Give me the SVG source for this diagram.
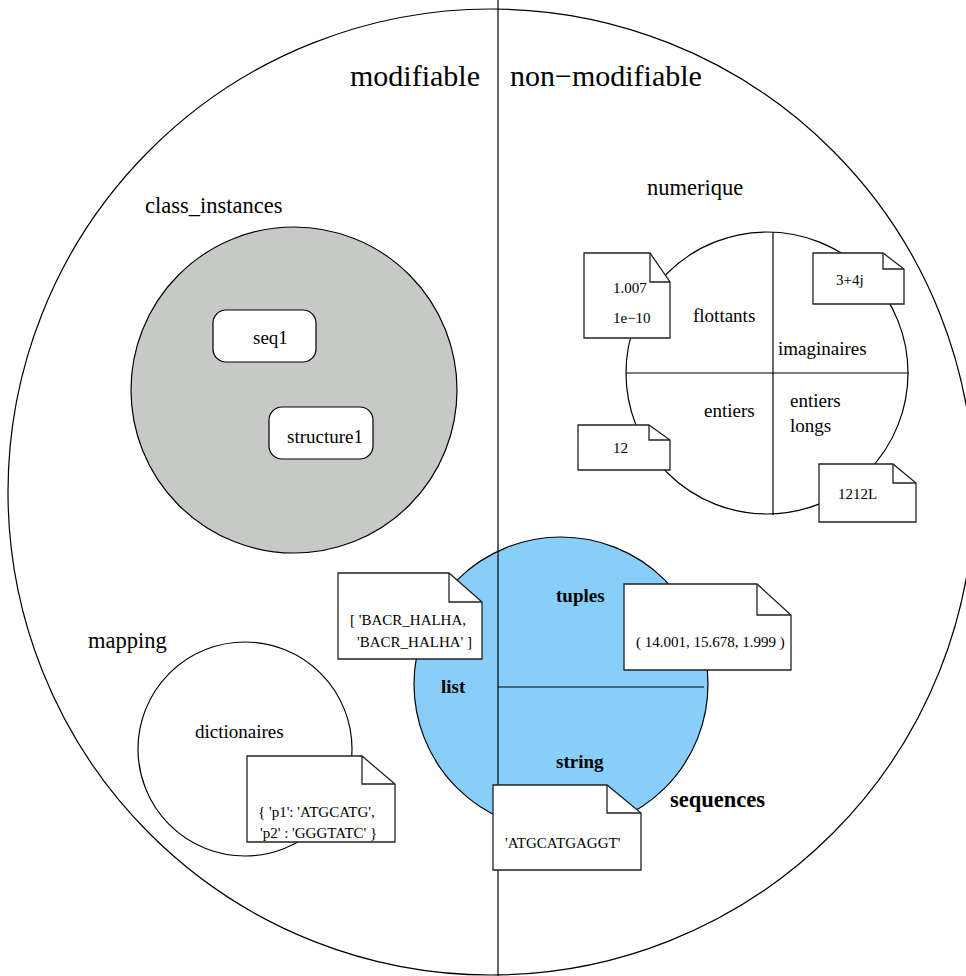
<svg xmlns="http://www.w3.org/2000/svg" width="966" height="976" viewBox="0 0 966 976">
<style>
text{font-family:"Liberation Serif","Times New Roman",serif;fill:#000}
.big{font-size:30px}
.lbl{font-size:22.5px}
.mid{font-size:19px}
.b{font-weight:bold}
.note{font-size:15px}
.ln{fill:none;stroke:#000;stroke-width:1.2}
.nb{fill:#fff;stroke:#222;stroke-width:1.3}
.fold{fill:none;stroke:#222;stroke-width:1.3}
</style>
<rect width="966" height="976" fill="#fff"/>
<g id="universe">
<circle cx="491" cy="492" r="483" fill="#fff" stroke="#000" stroke-width="1.2"/>
</g>
<g id="class_instances">
<circle cx="294" cy="390" r="163" fill="#c6c9c6" stroke="#000" stroke-width="1.2"/>
<text class="lbl" x="145" y="213">class_instances</text>
</g>
<g id="seq1">
<rect x="213" y="310" width="103" height="52" rx="13" fill="#fff" stroke="#000" stroke-width="1.2"/>
<text class="mid" x="253" y="344">seq1</text>
</g>
<g id="structure1">
<rect x="269" y="407" width="104" height="52" rx="13" fill="#fff" stroke="#000" stroke-width="1.2"/>
<text class="mid" x="287" y="443">structure1</text>
</g>
<g id="numerique">
<circle cx="767" cy="373" r="141" fill="#fff" stroke="#000" stroke-width="1.2"/>
<text class="lbl" x="647" y="195">numerique</text>
<text class="mid" x="693" y="322">flottants</text>
<text class="mid" x="778" y="355">imaginaires</text>
<text class="mid" x="704" y="417">entiers</text>
<text class="mid" x="790" y="407">entiers</text>
<text class="mid" x="790" y="432">longs</text>
</g>
<g id="mapping">
<circle cx="245" cy="749" r="107" fill="#fff" stroke="#000" stroke-width="1.2"/>
<text class="lbl" x="88" y="648">mapping</text>
<text class="mid" x="195" y="738">dictionaires</text>
</g>
<g id="sequences">
<circle cx="561" cy="684" r="147" fill="#87cefa" stroke="#000" stroke-width="1.2"/>
<text class="mid b" x="556" y="602">tuples</text>
<text class="mid b" x="441" y="693">list</text>
<text class="mid b" x="556" y="768">string</text>
<text class="lbl b" x="670" y="807">sequences</text>
</g>
<g id="connectors">
<line class="ln" x1="498" y1="0" x2="498" y2="976"/>
<line class="ln" x1="773" y1="232" x2="773" y2="515"/>
<line class="ln" x1="626" y1="373" x2="909" y2="373"/>
<line class="ln" x1="498" y1="687" x2="704" y2="687"/>
</g>
<g id="titles">
<text class="big" x="350" y="86">modifiable</text>
<text class="big" x="510" y="86">non−modifiable</text>
</g>
<g id="note_float">
<path class="nb" d="M584 253H650L670 282V338H584Z"/>
<path class="fold" d="M650 253V282H670"/>
<text class="note" x="613" y="293">1.007</text>
<text class="note" x="613" y="323">1e−10</text>
</g>
<g id="note_imag">
<path class="nb" d="M813 253H883L904 269V304H813Z"/>
<path class="fold" d="M883 253V269H904"/>
<text class="note" x="836" y="285">3+4j</text>
</g>
<g id="note_int">
<path class="nb" d="M578 425H649L670 440V470H578Z"/>
<path class="fold" d="M649 425V440H670"/>
<text class="note" x="613" y="453">12</text>
</g>
<g id="note_long">
<path class="nb" d="M819 464H893L916 483V522H819Z"/>
<path class="fold" d="M893 464V483H916"/>
<text class="note" x="838" y="499">1212L</text>
</g>
<g id="note_list">
<path class="nb" d="M338 573H449L482 602V659H338Z"/>
<path class="fold" d="M449 573V602H482"/>
<text class="note" x="350" y="625">[ 'BACR_HALHA,</text>
<text class="note" x="357" y="647">'BACR_HALHA' ]</text>
</g>
<g id="note_tuple">
<path class="nb" d="M624 584H757L791 615V670H624Z"/>
<path class="fold" d="M757 584V615H791"/>
<text class="note" x="636" y="647">( 14.001, 15.678, 1.999 )</text>
</g>
<g id="note_string">
<path class="nb" d="M493 785H607L641 813V870H493Z"/>
<path class="fold" d="M607 785V813H641"/>
<text class="note" x="505" y="848">'ATGCATGAGGT'</text>
</g>
<g id="note_dict">
<path class="nb" d="M247 756H362L395 784V842H247Z"/>
<path class="fold" d="M362 756V784H395"/>
<text class="note" x="258" y="817">{ 'p1': 'ATGCATG',</text>
<text class="note" x="260" y="838">'p2' : 'GGGTATC' }</text>
</g>
</svg>
